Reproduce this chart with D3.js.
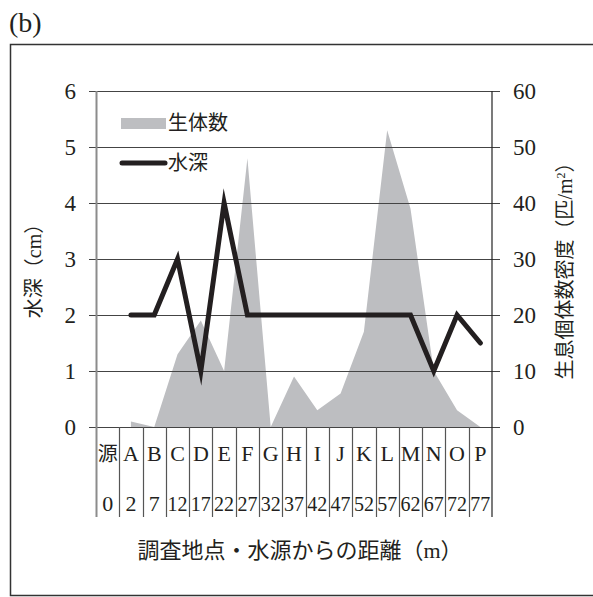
<!DOCTYPE html>
<html>
<head>
<meta charset="utf-8">
<script src="https://cdn.jsdelivr.net/npm/d3@7"></script>
<style>
  html, body { margin: 0; padding: 0; background: #fff; }
  svg { display: block; }
  text { fill: #231f20; }
</style>
</head>
<body>
<svg id="chart" width="593" height="597"></svg>
<script>
// Survey stations and their distance from the spring (m)
const stations  = ["源", "A", "B", "C", "D", "E", "F", "G", "H", "I", "J", "K", "L", "M", "N", "O", "P"];
const distances = ["0", "2", "7", "12", "17", "22", "27", "32", "37", "42", "47", "52", "57", "62", "67", "72", "77"];

// Water depth (cm), left axis
const depth   = [null, 2, 2, 3, 1, 4, 2, 2, 2, 2, 2, 2, 2, 2, 1, 2, 1.5];
// Population density (individuals / m²), right axis
const density = [null, 1, 0, 13, 19, 10, 48, 0, 9, 3, 6, 17, 53, 39, 10, 3, 0];

const depthTicks   = [0, 1, 2, 3, 4, 5, 6];
const densityTicks = [0, 10, 20, 30, 40, 50, 60];

const serif = "'Liberation Serif', 'Noto Sans CJK JP', serif";
const cjk = "'Noto Sans CJK JP', 'Liberation Serif', sans-serif";

const svg = d3.select("#chart");

const plot = { left: 96, right: 492, top: 91, bottom: 427 };
const tableBottom = 517;

const x = d3.scaleBand().domain(stations).range([plot.left, plot.right]).padding(0);
const cx = s => x(s) + x.bandwidth() / 2;
const yL = d3.scaleLinear().domain([0, 6]).range([plot.bottom, plot.top]);
const yR = d3.scaleLinear().domain([0, 60]).range([plot.bottom, plot.top]);

// Outer frame (open on the right)
svg.append("path")
  .attr("d", `M594,44.5 H10.5 V595.5 H594`)
  .attr("fill", "none").attr("stroke", "#333").attr("stroke-width", 1.5);

// Panel label
svg.append("text").attr("x", 9).attr("y", 32)
  .attr("font-family", serif).attr("font-size", 28).text("(b)");

// Density area
const rows = stations.map((s, i) => ({ s, depth: depth[i], density: density[i] }));
const area = d3.area()
  .defined(d => d.density != null)
  .x(d => cx(d.s))
  .y0(yR(0))
  .y1(d => yR(d.density));
svg.append("path").datum(rows)
  .attr("d", area)
  .attr("fill", "#bdbec1");

// Gridlines with outer ticks
svg.append("g").selectAll("line").data(depthTicks).join("line")
  .attr("x1", plot.left - 7).attr("x2", plot.right + 8)
  .attr("y1", d => Math.round(yL(d)) + 0.5).attr("y2", d => Math.round(yL(d)) + 0.5)
  .attr("stroke", "#444").attr("stroke-width", 1.2);

// Left axis line (grey) and right axis line (black)
svg.append("line")
  .attr("x1", plot.left + 0.5).attr("x2", plot.left + 0.5)
  .attr("y1", plot.top).attr("y2", tableBottom)
  .attr("stroke", "#8c8c8c").attr("stroke-width", 2);
svg.append("line")
  .attr("x1", plot.right).attr("x2", plot.right)
  .attr("y1", plot.top).attr("y2", tableBottom)
  .attr("stroke", "#222").attr("stroke-width", 1.2);

// Station table separators
svg.append("g").selectAll("line").data(stations.slice(1)).join("line")
  .attr("x1", d => Math.round(x(d)) + 0.5).attr("x2", d => Math.round(x(d)) + 0.5)
  .attr("y1", plot.bottom).attr("y2", tableBottom)
  .attr("stroke", "#555").attr("stroke-width", 1.2);

// Station names row
svg.append("g").selectAll("text").data(stations).join("text")
  .attr("x", d => cx(d)).attr("y", 461)
  .attr("text-anchor", "middle")
  .attr("font-family", (d, i) => i === 0 ? cjk : serif)
  .attr("font-size", (d, i) => i === 0 ? 20 : 22)
  .text(d => d);

// Distance row
svg.append("g").selectAll("text").data(distances).join("text")
  .attr("x", (d, i) => cx(stations[i])).attr("y", 511)
  .attr("text-anchor", "middle")
  .attr("font-family", serif).attr("font-size", 22)
  .each(function (d) {
    if (d.length > 1) d3.select(this).attr("textLength", 20).attr("lengthAdjust", "spacingAndGlyphs");
  })
  .text(d => d);

// Depth line
const line = d3.line()
  .defined(d => d.depth != null)
  .x(d => cx(d.s))
  .y(d => yL(d.depth));
svg.append("path").datum(rows)
  .attr("d", line)
  .attr("fill", "none")
  .attr("stroke", "#231f20").attr("stroke-width", 5)
  .attr("stroke-linecap", "round").attr("stroke-linejoin", "miter").attr("stroke-miterlimit", 10);

// Left tick labels
svg.append("g").selectAll("text").data(depthTicks).join("text")
  .attr("x", 76).attr("y", d => yL(d) + 8)
  .attr("text-anchor", "end")
  .attr("font-family", serif).attr("font-size", 23)
  .text(d => d);

// Right tick labels
svg.append("g").selectAll("text").data(densityTicks).join("text")
  .attr("x", 513).attr("y", d => yR(d) + 8)
  .attr("text-anchor", "start")
  .attr("font-family", serif).attr("font-size", 23)
  .text(d => d);

// Axis titles (Latin in serif, kanji fall back to the CJK face)
svg.append("text")
  .attr("transform", "translate(41,266) rotate(-90)")
  .attr("text-anchor", "middle")
  .attr("font-family", serif).attr("font-size", 20)
  .text("水深（cm）");

svg.append("text")
  .attr("transform", "translate(572,266) rotate(-90)")
  .attr("text-anchor", "middle")
  .attr("font-family", serif).attr("font-size", 20)
  .html("生息個体数密度（匹/m<tspan baseline-shift=\"super\" font-size=\"12\">2</tspan>）");

svg.append("text")
  .attr("x", 300).attr("y", 558)
  .attr("text-anchor", "middle")
  .attr("font-family", serif).attr("font-size", 22)
  .text("調査地点・水源からの距離（m）");

// Legend
const legend = svg.append("g");
legend.append("rect").attr("x", 121).attr("y", 118).attr("width", 45).attr("height", 11).attr("fill", "#bdbec1");
legend.append("text").attr("x", 168).attr("y", 130).attr("font-family", cjk).attr("font-size", 20).text("生体数");
legend.append("line").attr("x1", 122).attr("x2", 165).attr("y1", 163).attr("y2", 163)
  .attr("stroke", "#231f20").attr("stroke-width", 5).attr("stroke-linecap", "round");
legend.append("text").attr("x", 168).attr("y", 170).attr("font-family", cjk).attr("font-size", 20).text("水深");
</script>
</body>
</html>
